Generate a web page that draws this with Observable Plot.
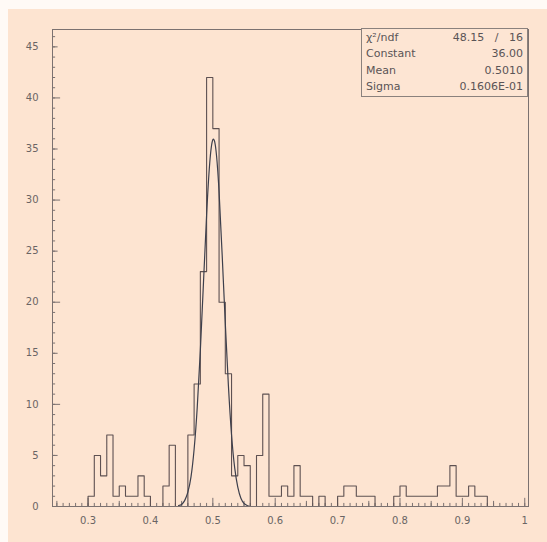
<!DOCTYPE html>
<html><head><meta charset="utf-8">
<script src="https://cdn.jsdelivr.net/npm/d3@7"></script>
<script src="https://cdn.jsdelivr.net/npm/@observablehq/plot@0.6"></script>
<style>
html,body{margin:0;padding:0;background:#fffaf6;}
#wrap{position:relative;width:547px;height:542px;overflow:hidden;}
#bg{position:absolute;left:8px;top:9px;right:0;bottom:0;background:#fde4d1;}
#chart{position:absolute;left:0;top:0;}
#stats{position:absolute;left:361px;top:28px;width:165px;height:67px;border:1px solid #8a817d;background:#fde5d3;font-family:"DejaVu Sans",sans-serif;font-size:11px;color:#5a5456;}
.row{position:absolute;left:4px;right:4px;height:14px;line-height:14px;}
.row .k{position:absolute;left:0;}
.row .v{position:absolute;right:0;}
</style></head>
<body>
<div id="wrap"><div id="bg"></div><div id="chart"></div>
<div id="stats"></div></div>
<script>
// histogram bins (lower edges) and counts
const binLow = [0.24,0.25,0.26,0.27,0.28,0.29,0.30,0.31,0.32,0.33,0.34,0.35,0.36,0.37,0.38,0.39,
  0.40,0.41,0.42,0.43,0.44,0.45,0.46,0.47,0.48,0.49,0.50,0.51,0.52,0.53,0.54,0.55,0.56,0.57,0.58,0.59,
  0.60,0.61,0.62,0.63,0.64,0.65,0.66,0.67,0.68,0.69,0.70,0.71,0.72,0.73,0.74,0.75,0.76,0.77,0.78,0.79,
  0.80,0.81,0.82,0.83,0.84,0.85,0.86,0.87,0.88,0.89,0.90,0.91,0.92,0.93,0.94,0.95,0.96,0.97,0.98,0.99,1.00];
const counts = [0,0,0,0,0,0,1,5,3,7,1,2,1,1,3,1,
  0,0,2,6,0,0,7,12,23,42,37,20,13,3,5,4,0,5,11,1,
  1,2,1,4,1,1,0,1,0,0,1,2,2,1,1,1,0,0,0,1,
  2,1,1,1,1,1,2,2,4,1,1,2,1,1,0,0,0,0,0,0,0];
// fitted gaussian curve as it appears in the picture
const fitX = [0.445,0.45,0.455,0.46,0.465,0.47,0.475,0.48,0.485,0.49,0.495,0.50,0.505,0.51,0.515,0.52,0.525,0.53,0.535,0.54,0.545,0.55,0.555,0.56];
const fitY = [0.1,0.2,0.6,1.4,2.9,5.6,9.7,15.3,21.9,28.5,33.6,35.9,34.9,30.8,24.6,17.9,11.8,7.0,3.8,1.9,0.8,0.3,0.1,0.0];
// tick labels
const xLabels = [0.3,0.4,0.5,0.6,0.7,0.8,0.9,1];
const yLabels = [0,5,10,15,20,25,30,35,40,45];
// stats box
const statNames = ["χ²/ndf","Constant","Mean","Sigma"];
const statValues = ["48.15   /   16","36.00","0.5010","0.1606E-01"];

const steps = binLow.map((x,i)=>({x, y: counts[i]}));
const fit = fitX.map((x,i)=>({x, y: fitY[i]}));

const X0 = 0.243, X1 = 1.006;
const xMinor = d3.range(25, 101).map(d=>d/100);
const xMed = [0.25,0.35,0.45,0.55,0.65,0.75,0.85,0.95];
const yMinor = d3.range(0, 47);
const yMajor = [0,10,20,30,40];
const yMed = [5,15,25,35,45];
const axisC = "#7b7170";

const chart = Plot.plot({
  width: 547, height: 542,
  marginLeft: 52, marginRight: 19, marginTop: 29, marginBottom: 36,
  style: {background: "transparent", color: "#6a6464", fontFamily: "DejaVu Sans, sans-serif"},
  x: {domain: [X0, X1], label: null},
  y: {domain: [0, 46.7], label: null},
  marks: [
    Plot.ruleX(xMinor, {x: d=>d, y1: 0, y2: 0.3, stroke: axisC}),
    Plot.ruleX(xMed, {x: d=>d, y1: 0, y2: 0.5, stroke: axisC}),
    Plot.ruleX(xLabels, {x: d=>d, y1: 0, y2: 0.8, stroke: axisC}),
    Plot.ruleY(yMinor, {y: d=>d, x1: X0, x2: X0 + 0.005, stroke: axisC}),
    Plot.ruleY(yMed, {y: d=>d, x1: X0, x2: X0 + 0.009, stroke: axisC}),
    Plot.ruleY(yMajor, {y: d=>d, x1: X0, x2: X0 + 0.013, stroke: axisC}),
    Plot.axisX(xLabels, {label: null, tickSize: 0, tickPadding: 10, fontSize: 10, tickFormat: d => d === 1 ? "1" : d3.format(".1f")(d)}),
    Plot.axisY(yLabels, {label: null, tickSize: 0, tickPadding: 14, fontSize: 10}),
    Plot.line(steps, {x: "x", y: "y", curve: "step-after", stroke: "#5e5152", strokeWidth: 1.1, clip: true}),
    Plot.line(fit, {x: "x", y: "y", curve: "natural", stroke: "#3d3f4c", strokeWidth: 1.2}),
    Plot.frame({stroke: axisC})
  ]
});
document.getElementById("chart").appendChild(chart);

const stats = document.getElementById("stats");
const rowTops = [2, 18, 35, 51];
statNames.forEach((n,i)=>{
  const r = document.createElement("div");
  r.className = "row"; r.style.top = rowTops[i] + "px";
  r.innerHTML = `<span class="k"></span><span class="v"></span>`;
  r.querySelector(".k").textContent = n;
  r.querySelector(".v").textContent = statValues[i];
  r.querySelector(".v").style.whiteSpace = "pre";
  stats.appendChild(r);
});
</script>
</body></html>
